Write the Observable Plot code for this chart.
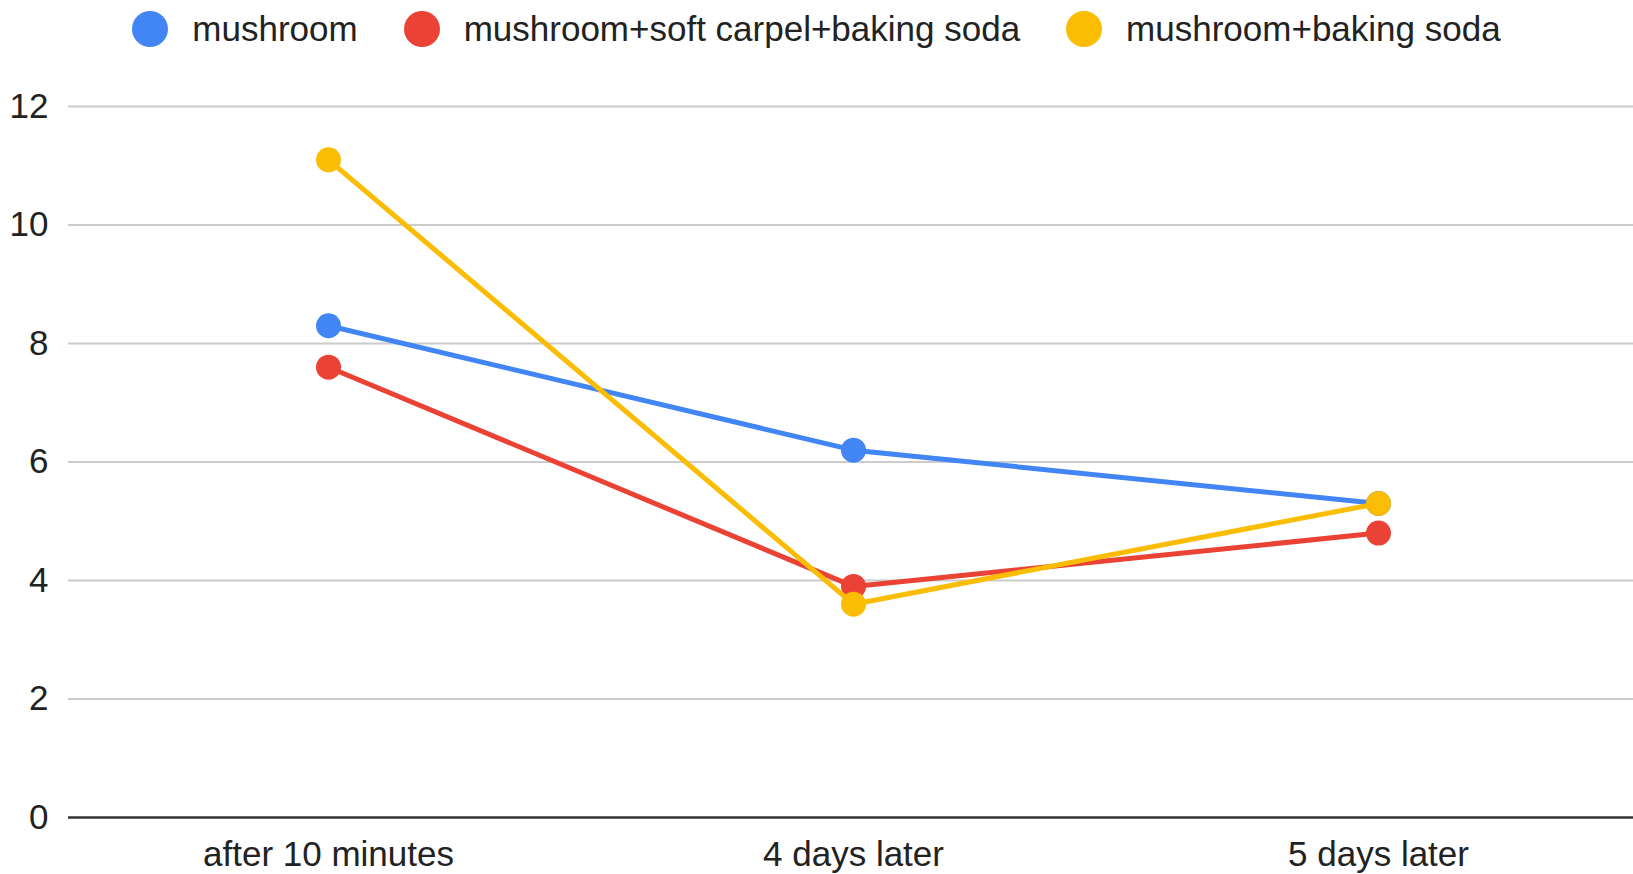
<!DOCTYPE html>
<html>
<head>
<meta charset="utf-8">
<script src="https://cdn.jsdelivr.net/npm/d3@7"></script>
<script src="https://cdn.jsdelivr.net/npm/@observablehq/plot@0.6"></script>
<style>
  html, body { margin: 0; padding: 0; background: #fff; }
  body { width: 1633px; height: 874px; overflow: hidden; font-family: "Liberation Sans", Arial, sans-serif; }
  #legend { height: 58px; display: flex; justify-content: center; align-items: center; gap: 46px; font-size: 35px; color: #222; padding-left: 0px; box-sizing: border-box; }
  .item { display: flex; align-items: center; }
  .sw { width: 36px; height: 36px; border-radius: 50%; margin-right: 24px; }
  svg { display: block; }
</style>
</head>
<body>
<div id="legend"></div>
<div id="chart"></div>
<script>
const categories = ["after 10 minutes", "4 days later", "5 days later"];
const seriesNames = ["mushroom", "mushroom+soft carpel+baking soda", "mushroom+baking soda"];
const seriesColors = ["#4285F4", "#EA4335", "#FBBC04"];
const mushroom = [8.3, 6.2, 5.3];
const mushroomCarpelSoda = [7.6, 3.9, 4.8];
const mushroomSoda = [11.1, 3.6, 5.3];
const yTicks = [0, 2, 4, 6, 8, 10, 12];

const allValues = [mushroom, mushroomCarpelSoda, mushroomSoda];
const data = [];
allValues.forEach((vals, s) => vals.forEach((v, i) => data.push({series: seriesNames[s], cat: categories[i], value: v})));

const legend = document.getElementById("legend");
seriesNames.forEach((name, i) => {
  const item = document.createElement("div");
  item.className = "item";
  item.innerHTML = `<span class="sw" style="background:${seriesColors[i]}"></span><span>${name}</span>`;
  legend.appendChild(item);
});

const marks = [
  Plot.ruleY(yTicks.filter(d => d !== 0), {stroke: "#cccccc", strokeWidth: 2}),
  Plot.ruleY([0], {stroke: "#333333", strokeWidth: 2.5}),
  Plot.axisY({ticks: yTicks, tickSize: 0, tickPadding: 20, fontSize: 35, fill: "#222", tickFormat: d => d}),
  Plot.axisX({tickSize: 0, tickPadding: 24, fontSize: 35, fill: "#222"})
];
seriesNames.forEach((name, i) => {
  const d = data.filter(r => r.series === name);
  marks.push(Plot.line(d, {x: "cat", y: "value", stroke: seriesColors[i], strokeWidth: 5}));
  marks.push(Plot.dot(d, {x: "cat", y: "value", fill: seriesColors[i], r: 12.5}));
});

const chart = Plot.plot({
  width: 1633,
  height: 816,
  marginLeft: 68,
  marginRight: 0,
  marginTop: 48,
  marginBottom: 57,
  style: {fontFamily: "Liberation Sans, Arial, sans-serif", background: "#fff", overflow: "visible"},
  x: {type: "point", domain: categories, padding: 0.5, range: [65, 1641], label: null},
  y: {domain: [0, 12], label: null},
  marks
});
document.getElementById("chart").appendChild(chart);
</script>
</body>
</html>
